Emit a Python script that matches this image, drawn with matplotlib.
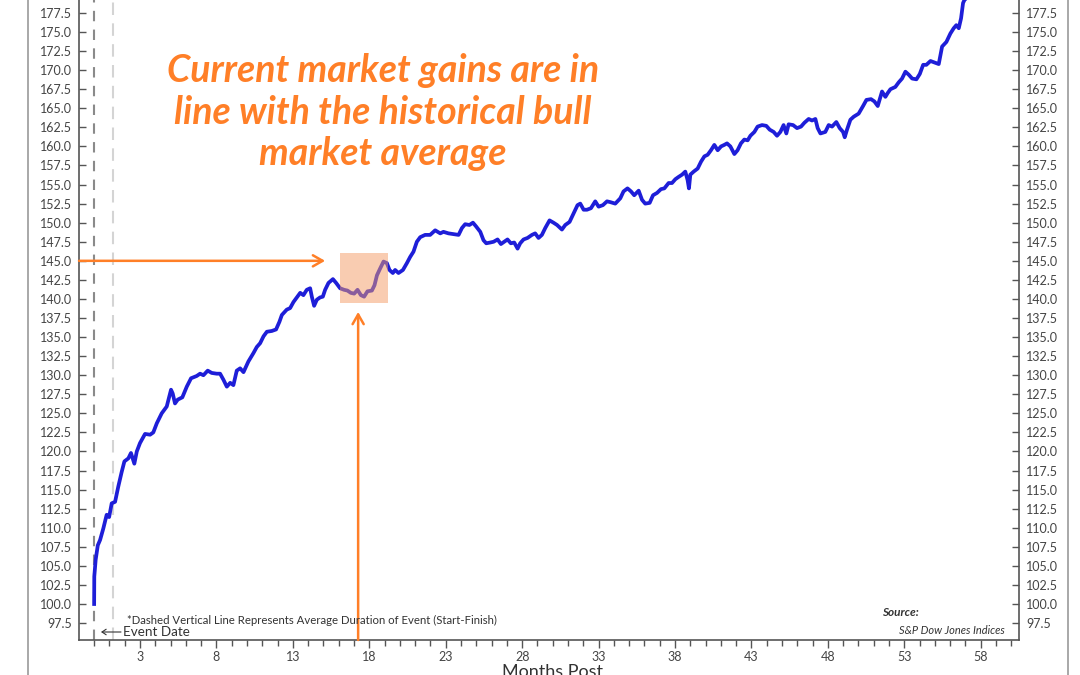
import numpy as np
import matplotlib
matplotlib.use("Agg")
import matplotlib.pyplot as plt
from matplotlib.lines import Line2D
from matplotlib.patches import Rectangle
from matplotlib.ticker import FormatStrFormatter, FixedLocator

plt.rcParams['font.family'] = ['Lato', 'DejaVu Sans']

# ---- data (months after start, index level) ----
months = [0.00, 0.01, 0.10, 0.24, 0.39, 0.60, 0.82, 0.98, 1.15, 1.37, 1.58, 1.80, 1.98,
          2.24, 2.41, 2.63, 2.79, 3.00, 3.33, 3.66, 3.87, 4.10, 4.42, 4.75, 5.03, 5.14,
          5.29, 5.47, 5.77, 6.06, 6.34, 6.71, 6.93, 7.15, 7.43, 7.69, 8.02, 8.24, 8.46,
          8.68, 8.90, 9.11, 9.33, 9.55, 9.77, 10.09, 10.42, 10.64, 10.86, 11.08, 11.30,
          11.62, 11.90, 12.12, 12.28, 12.60, 12.82, 13.04, 13.26, 13.48, 13.69, 13.91,
          14.13, 14.24, 14.39, 14.57, 14.78, 14.96, 15.11, 15.33, 15.62, 15.83, 16.09,
          16.35, 16.57, 16.79, 17.01, 17.23, 17.45, 17.66, 17.88, 18.17, 18.34, 18.50,
          18.71, 18.93, 19.15, 19.32, 19.54, 19.69, 19.91, 20.20, 20.46, 20.67, 20.89,
          21.11, 21.33, 21.65, 21.98, 22.31, 22.64, 22.85, 23.18, 23.51, 23.84, 24.06,
          24.27, 24.55, 24.78, 24.99, 25.26, 25.47, 25.65, 25.91, 26.13, 26.39, 26.61,
          26.83, 27.04, 27.26, 27.48, 27.70, 27.87, 28.09, 28.35, 28.64, 28.85, 29.07,
          29.29, 29.51, 29.79, 30.05, 30.28, 30.60, 30.82, 31.10, 31.36, 31.62, 31.80,
          32.02, 32.24, 32.50, 32.78, 33.00, 33.28, 33.55, 33.76, 34.09, 34.42, 34.63,
          34.89, 35.12, 35.33, 35.62, 35.84, 36.05, 36.34, 36.56, 36.82, 37.08, 37.30,
          37.58, 37.80, 38.02, 38.23, 38.46, 38.67, 38.82, 38.91, 39.00, 39.22, 39.48,
          39.70, 39.92, 40.13, 40.35, 40.57, 40.79, 41.01, 41.22, 41.40, 41.62, 41.88,
          42.09, 42.31, 42.53, 42.75, 42.93, 43.19, 43.40, 43.69, 43.97, 44.19, 44.45,
          44.67, 44.89, 45.10, 45.28, 45.43, 45.72, 45.98, 46.24, 46.46, 46.74, 46.96,
          47.18, 47.33, 47.51, 47.83, 48.05, 48.27, 48.55, 48.77, 48.99, 49.10, 49.25,
          49.47, 49.69, 50.01, 50.30, 50.52, 50.82, 51.04, 51.26, 51.39, 51.54, 51.76,
          51.91, 52.09, 52.41, 52.63, 52.85, 53.07, 53.29, 53.51, 53.79, 54.01, 54.23,
          54.44, 54.71, 54.97, 55.25, 55.47, 55.75, 56.01, 56.23, 56.40, 56.56, 56.71,
          56.84, 56.93, 57.20, 57.50, 57.80]
index_level = [100.0, 103.6, 105.8, 107.7, 108.4, 109.9, 111.7, 111.4, 113.2, 113.4, 115.4, 117.3, 118.7,
               119.1, 119.8, 118.4, 120.0, 121.1, 122.3, 122.2, 122.5, 123.7, 125.0, 125.9, 128.1, 127.6,
               126.3, 126.8, 127.1, 128.5, 129.6, 129.9, 130.2, 130.0, 130.6, 130.3, 130.2, 130.2, 129.4,
               128.5, 129.0, 128.7, 130.6, 130.9, 130.4, 131.8, 132.9, 133.7, 134.2, 135.1, 135.7,
               135.8, 136.0, 137.0, 137.9, 138.6, 138.8, 139.6, 140.2, 140.8, 140.5, 141.2,
               141.4, 140.3, 139.1, 139.9, 140.2, 140.3, 141.2, 142.1, 142.6, 142.1, 141.4,
               141.2, 141.1, 140.8, 140.7, 141.2, 140.5, 140.3, 141.0, 141.1, 141.8, 143.1,
               144.0, 144.9, 144.7, 143.8, 143.4, 143.8, 143.4, 143.8, 144.7, 145.5, 146.2,
               147.5, 148.1, 148.4, 148.4, 149.0, 148.6, 148.8, 148.6, 148.5, 148.4, 149.3,
               149.8, 149.7, 150.0, 149.5, 148.8, 147.7, 147.3, 147.4, 147.5, 147.8, 147.2,
               147.5, 147.8, 147.3, 147.4, 146.6, 147.3, 147.8, 148.0, 148.4, 148.6, 148.0,
               148.4, 149.3, 150.3, 150.0, 149.7, 149.1, 149.7, 150.1, 151.2, 152.3, 152.5,
               151.7, 151.7, 151.9, 152.8, 152.1, 152.3, 152.8, 152.7, 152.5, 153.2, 154.1,
               154.5, 154.1, 153.6, 154.2, 153.0, 152.5, 152.6, 153.6, 153.9, 154.4, 154.5,
               155.2, 155.2, 155.7, 156.0, 156.3, 156.7, 155.6, 154.5, 156.3, 156.7, 157.1,
               158.0, 158.7, 158.9, 159.5, 160.2, 159.5, 160.0, 160.2, 160.4, 160.0, 159.0,
               159.5, 160.4, 160.9, 160.8, 161.4, 161.9, 162.6, 162.8, 162.7, 162.2, 161.9,
               161.4, 161.9, 162.8, 161.7, 162.9, 162.8, 162.4, 162.6, 163.1, 163.6, 163.4,
               163.6, 162.4, 161.7, 161.9, 162.8, 162.6, 163.2, 162.4, 161.9, 161.2, 162.2,
               163.5, 163.9, 164.3, 165.3, 166.1, 166.2, 165.9, 165.3, 166.2, 167.2, 166.5,
               167.0, 167.5, 167.8, 168.4, 168.9, 169.8, 169.4, 168.9, 168.8, 169.5, 170.7,
               170.7, 171.2, 171.0, 170.8, 173.1, 173.7, 174.8, 175.5, 175.9, 175.5, 176.8,
               178.8, 179.2, 179.7, 180.5, 181.5]

x_tick_labels = [3, 8, 13, 18, 23, 28, 33, 38, 43, 48, 53, 58]
event_month = 0.0
avg_duration_month = 1.22
highlight_months = (16.09, 19.23)
highlight_levels = (139.47, 146.03)
arrow_level = 145.0
arrow_month = 17.27

W, H = 1080, 675
fig = plt.figure(figsize=(W / 100, H / 100), dpi=100)
ax = fig.add_axes([79 / W, 1 - 640 / H, (1019 - 79) / W, 640 / H])
ax.set_xlim(-0.99, 60.5)
ax.set_ylim(95.28, 179.2)

# spines
for s in ['left', 'right', 'bottom']:
    ax.spines[s].set_color('#555555')
    ax.spines[s].set_linewidth(1.2)
ax.spines['top'].set_visible(False)

# y ticks both sides
ax.yaxis.set_major_locator(FixedLocator(np.arange(97.5, 180, 2.5)))
ax.yaxis.set_major_formatter(FormatStrFormatter('%.1f'))
ax.tick_params(axis='y', which='major', direction='in', length=5, width=1, color='#555555',
               labelsize=9, labelcolor='#444444', left=True, right=True,
               labelleft=True, labelright=True, pad=5)

# x ticks
ax.xaxis.set_major_locator(FixedLocator(x_tick_labels))
ax.xaxis.set_minor_locator(FixedLocator(np.arange(0, 61, 1)))
ax.xaxis.set_major_formatter(FormatStrFormatter('%d'))
ax.tick_params(axis='x', which='major', direction='out', length=6, width=1, color='#555555',
               labelsize=9, labelcolor='#444444', pad=2)
ax.tick_params(axis='x', which='minor', direction='out', length=4, width=1, color='#555555')

# dashed vertical lines
ax.axvline(event_month, color='#8a8a8a', ls=(0, (5, 4)), lw=1.5, zorder=1)
ax.axvline(avg_duration_month, color='#d4d4d4', ls=(0, (6, 4)), lw=1.5, zorder=1)

# main line
ax.plot(months, index_level, color='#1e1ed8', lw=2.7, zorder=3, solid_joinstyle='round')

# highlight box
ax.add_patch(Rectangle((highlight_months[0], highlight_levels[0]),
                       highlight_months[1] - highlight_months[0],
                       highlight_levels[1] - highlight_levels[0],
                       fc='#F59B64', ec='none', alpha=0.5, zorder=4))

orange = '#FF7F27'
ax.annotate('', xy=(15.11, arrow_level), xytext=(-0.99, arrow_level),
            arrowprops=dict(arrowstyle='->,head_length=0.7,head_width=0.4', color=orange,
                            lw=1.8, shrinkA=0, shrinkB=0), annotation_clip=False, zorder=5)
ax.annotate('', xy=(arrow_month, 138.3), xytext=(arrow_month, 95.28),
            arrowprops=dict(arrowstyle='->,head_length=0.7,head_width=0.4', color=orange,
                            lw=1.8, shrinkA=0, shrinkB=0), annotation_clip=False, zorder=5)

# headline annotation
fig.text(383 / W, 1 - 112 / H, "Current market gains are in\nline with the historical bull\nmarket average",
         ha='center', va='center', fontsize=27, fontweight='bold', style='italic',
         color=orange, linespacing=1.24)

# footnotes
fig.text(127 / W, 1 - 620 / H,
         "*Dashed Vertical Line Represents Average Duration of Event (Start-Finish)",
         fontsize=8.2, color='#333333', va='center')
fig.text(123 / W, 1 - 632 / H, "Event Date", fontsize=9.7, color='#333333', va='center')
ax.annotate('', xy=(101 / W, 1 - 632 / H), xytext=(121 / W, 1 - 632 / H),
            xycoords='figure fraction', textcoords='figure fraction',
            arrowprops=dict(arrowstyle='->,head_length=0.3,head_width=0.2', color='#333333',
                            lw=0.8, shrinkA=0, shrinkB=0))
fig.text(900 / W, 1 - 612 / H, "Source:", fontsize=8.5, fontweight='bold', style='italic',
         color='#333333', ha='center', va='center')
fig.text(1005 / W, 1 - 630 / H, "S&P Dow Jones Indices", fontsize=7.9, style='italic',
         color='#333333', ha='right', va='center')

# x label (partly cut off at bottom like the reference)
fig.text(553 / W, 1 - 664 / H, "Months Post", fontsize=13, color='#333333',
         ha='center', va='top')

# outer frame lines
for xp in (28, 1068):
    fig.add_artist(Line2D([xp / W, xp / W], [0, 1], color='#9a9a9a', lw=1.2,
                          transform=fig.transFigure))

fig.savefig('out.png', dpi=100)
